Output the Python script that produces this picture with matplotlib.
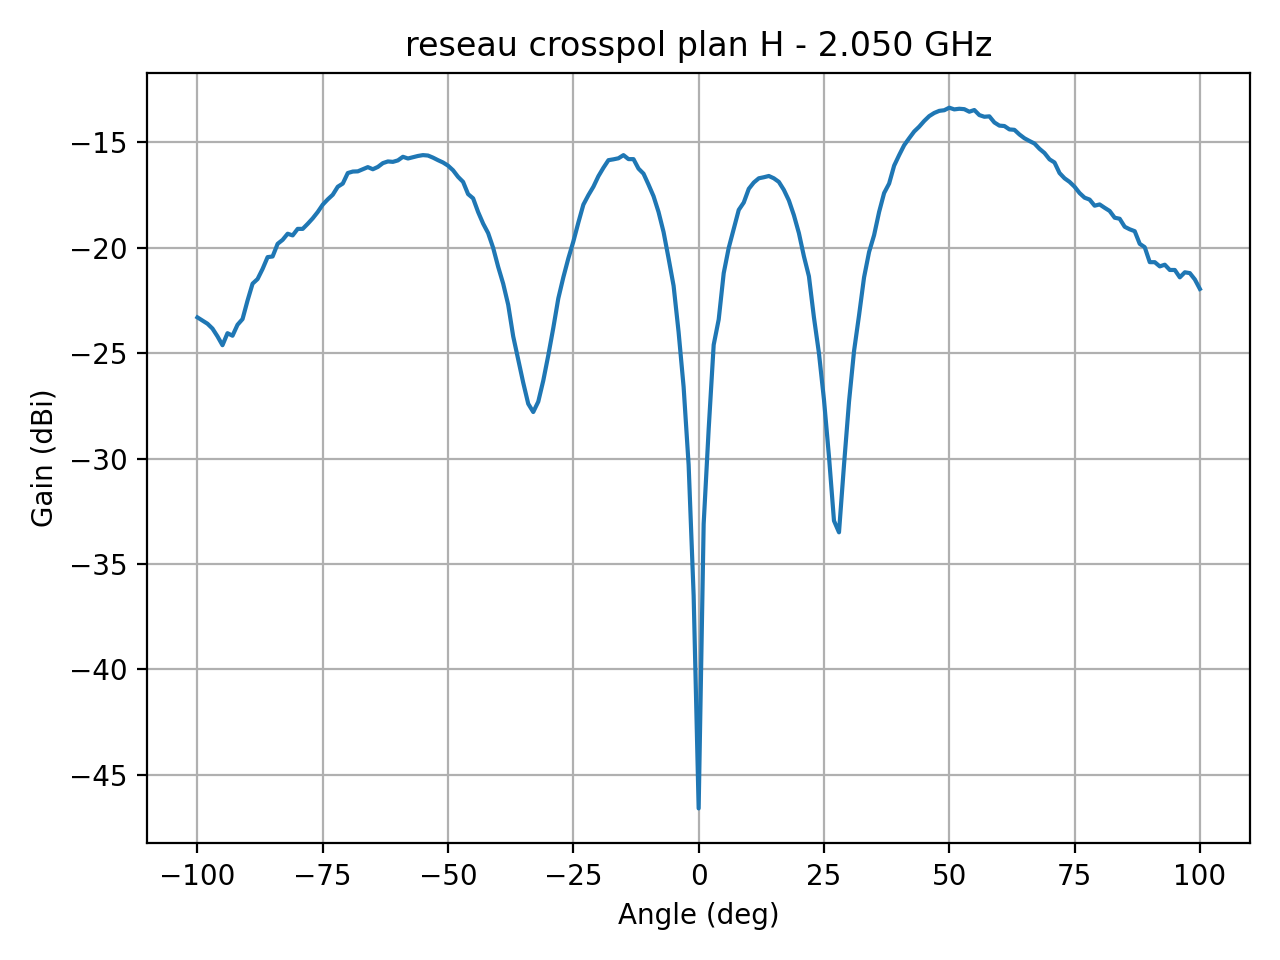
import numpy as np
import matplotlib
matplotlib.use("Agg")
import matplotlib.pyplot as plt

# -----------------------------
# DATA (1 deg steps)
# -----------------------------
angles = np.arange(-100, 101, 1)

gain_neg = [
    -23.30, -23.45, -23.60, -23.83, -24.20, -24.62, -24.05, -24.17, -23.65, -23.38,   # -100..-91
    -22.50, -21.70, -21.48, -21.00, -20.44, -20.41, -19.81, -19.62, -19.33, -19.41,   # -90..-81
    -19.10, -19.10, -18.86, -18.60, -18.30, -17.95, -17.70, -17.48, -17.10, -16.95,   # -80..-71
    -16.45, -16.38, -16.37, -16.27, -16.17, -16.27, -16.16, -15.98, -15.90, -15.92,   # -70..-61
    -15.85, -15.68, -15.76, -15.70, -15.64, -15.60, -15.62, -15.72, -15.84, -15.95,   # -60..-51
    -16.10, -16.32, -16.63, -16.87, -17.45, -17.65, -18.30, -18.85, -19.30, -20.00,   # -50..-41
    -20.90, -21.70, -22.70, -24.20, -25.30, -26.40, -27.40, -27.79, -27.30, -26.30,   # -40..-31
    -25.10, -23.80, -22.40, -21.40, -20.50, -19.70, -18.80, -17.95, -17.50, -17.10,   # -30..-21
    -16.60, -16.20, -15.84, -15.80, -15.75, -15.60, -15.79, -15.79, -16.24, -16.48,   # -20..-11
    -17.00, -17.55, -18.30, -19.25, -20.50, -21.80, -24.00, -26.60, -30.30, -36.50,   # -10..-1
]
gain_zero = [-46.60]
gain_pos = [
    -33.10, -28.60, -24.60, -23.40, -21.20, -20.00, -19.10, -18.20, -17.85, -17.20,   # 1..10
    -16.90, -16.70, -16.65, -16.59, -16.70, -16.87, -17.25, -17.75, -18.45, -19.30,   # 11..20
    -20.40, -21.35, -23.30, -25.00, -27.20, -29.90, -32.95, -33.50, -30.30, -27.30,   # 21..30
    -24.90, -23.20, -21.40, -20.20, -19.40, -18.30, -17.40, -16.95, -16.10, -15.60,   # 31..40
    -15.13, -14.80, -14.48, -14.25, -13.98, -13.75, -13.60, -13.50, -13.47, -13.35,   # 41..50
    -13.43, -13.40, -13.42, -13.54, -13.46, -13.70, -13.78, -13.76, -14.05, -14.20,   # 51..60
    -14.22, -14.38, -14.40, -14.62, -14.80, -14.93, -15.05, -15.30, -15.50, -15.80,   # 61..70
    -15.95, -16.45, -16.70, -16.87, -17.10, -17.40, -17.62, -17.71, -18.00, -17.94,   # 71..80
    -18.10, -18.25, -18.57, -18.62, -19.00, -19.12, -19.21, -19.81, -19.97, -20.68,   # 81..90
    -20.68, -20.88, -20.80, -21.05, -21.05, -21.40, -21.16, -21.20, -21.50, -21.95,   # 91..100
]
gain = np.array(gain_neg + gain_zero + gain_pos)

TITLE = "reseau crosspol plan H - 2.050 GHz"

# -----------------------------
# PLOT
# -----------------------------
fig, ax = plt.subplots(figsize=(6.4, 4.8), dpi=200)
ax.plot(angles, gain)
ax.set_title(TITLE)
ax.set_xlabel("Angle (deg)")
ax.set_ylabel("Gain (dBi)")
ax.grid(True)

plt.tight_layout()
plt.savefig("out.png", dpi=200)
